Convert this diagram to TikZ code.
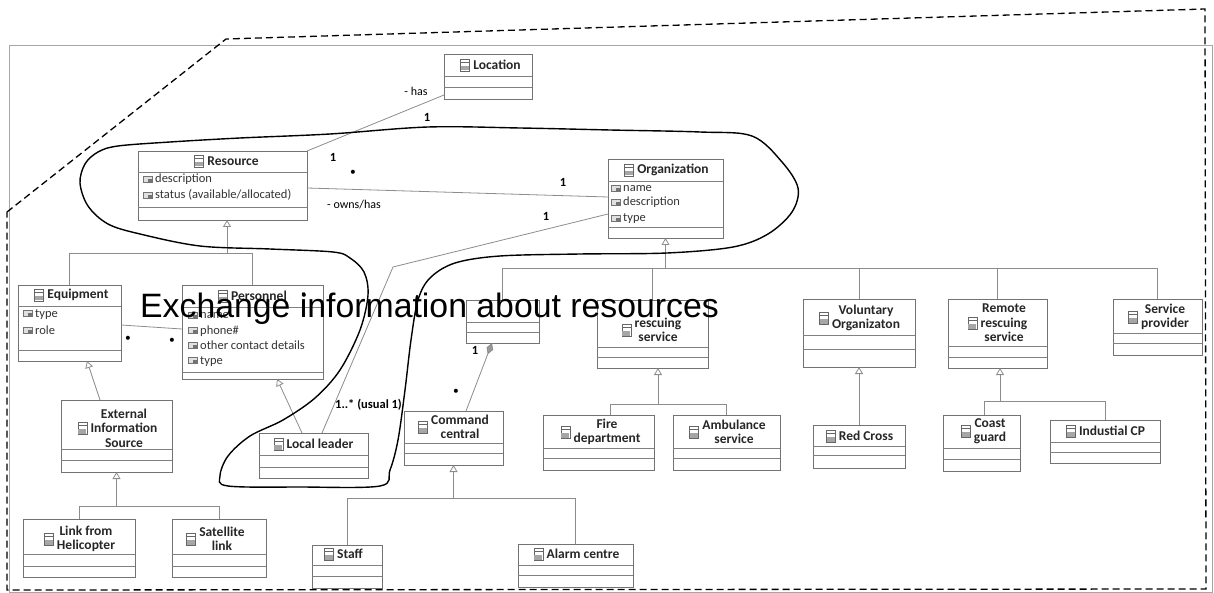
\documentclass[tikz,border=0pt]{standalone}
\usepackage{fontspec}
\setmainfont{Carlito}
\newfontfamily\bannerfont{Liberation Sans}
\usetikzlibrary{arrows.meta}

\tikzset{
  clsbox/.style={draw=black!55, line width=0.9pt, inner sep=0pt, outer sep=0pt},
  sepline/.style={draw=black!50, line width=0.8pt},
  conn/.style={draw=black!45, line width=0.8pt},
  gen/.style={conn, -{Triangle[open, length=7pt, width=8pt, line width=0.8pt]}},
  comp/.style={conn, {Diamond[fill=black!40, color=black!45, length=12pt, width=7pt]}-},
  ctitle/.style={font=\fontsize{13.5}{14.5}\selectfont\bfseries, align=center, inner sep=0pt, text=black!85},
  attrtext/.style={font=\fontsize{12.5}{14}\selectfont, inner sep=0pt, text=black!80},
  mult/.style={font=\fontsize{12.5}{14}\selectfont\bfseries, inner sep=0pt},
  dotmark/.style={font=\fontsize{11.5}{12}\selectfont, inner sep=0pt},
  rolelabel/.style={font=\fontsize{12}{14}\selectfont, inner sep=0pt},
  hull/.style={draw=black, line width=1.4pt},
  boundary/.style={draw=black, line width=1.3pt, dash pattern=on 7pt off 4pt},
}

% class box: name, x1, y1, x2, y2, header separator, attribute separator
\newcommand{\umlclass}[7]{%
  \node[clsbox, minimum width={(#4-#2)*1pt}, minimum height={(#5-#3)*1pt}] (#1) at ({(#2+#4)/2},{(#3+#5)/2}) {};
  \draw[sepline] (#2,#6) -- (#4,#6);
  \draw[sepline] (#2,#7) -- (#4,#7);
}
% small class glyph
\newcommand{\classicon}[1]{%
  \draw[black!60, line width=0.6pt, fill=white] #1 ++(-4.5,-6) rectangle ++(9,12);
  \fill[black!35] #1 ++(-4,1) rectangle ++(8,4.5);
  \draw[black!60, line width=0.5pt] #1 ++(-4.5,-2.5) -- ++(9,0);
}
% class title with its glyph on the left
\newcommand{\umltitle}[4]{%
  \node[ctitle] (#1) at (#2,#3) {#4};
  \classicon{([xshift=-8pt]#1.west)}
}
% attribute glyph
\newcommand{\attricon}[1]{%
  \draw[black!55, line width=0.5pt, fill=black!12] #1 ++(-5,-3) rectangle ++(9,6);
  \fill[black!55] #1 rectangle ++(4,4);
}
% attribute line: name, x, baseline y, text
\newcommand{\umlattr}[4]{%
  \node[attrtext, anchor=base west] (#1) at (#2,#3) {#4};
  \attricon{([xshift=-7pt,yshift=4pt]#1.base west)}
}

\begin{document}
\begin{tikzpicture}[x=1pt, y=-1pt]
\useasboundingbox (0,0) rectangle (1214,593);

% diagram frame and the dashed boundary
\draw[black!35, line width=0.6pt] (9,45) rectangle (1212,592);
\draw[boundary] (7,212) -- (226,39) -- (1205,9) -- (1206,589) -- (7,590) -- cycle;

% classes
\umlclass{loc}{444}{54}{532}{99}{76}{87}
\umlclass{res}{138}{151}{307}{220}{172}{207}
\umlclass{org}{608}{159}{723}{238}{181}{227}
\umlclass{eq}{18}{285}{121}{361}{306}{350}
\umlclass{pers}{182}{285}{323}{379}{307}{372}
\umlclass{ext}{61}{400}{172}{472}{449}{460}
\umlclass{link}{23}{519}{135}{577}{554}{566}
\umlclass{sat}{172}{519}{266}{577}{554}{566}
\umlclass{ll}{259}{433}{368}{478}{455}{467}
\umlclass{cmd}{404}{411}{503}{465}{443}{453}
\umlclass{staff}{312}{545}{382}{588}{565}{576}
\umlclass{alarm}{518}{544}{633}{587}{565}{575}
\umlclass{hid}{466}{300}{539}{343}{322}{332}
\umlclass{rs}{597}{300}{708}{368}{347}{357}
\umlclass{vol}{803}{299}{915}{367}{335}{349}
\umlclass{rem}{948}{299}{1047}{368}{346}{357}
\umlclass{sp}{1113}{299}{1202}{355}{333}{343}
\umlclass{fire}{543}{415}{654}{470}{448}{458}
\umlclass{amb}{673}{415}{780}{470}{448}{458}
\umlclass{rc}{813}{425}{905}{468}{446}{455}
\umlclass{cg}{943}{415}{1020}{471}{448}{459}
\umlclass{ind}{1050}{420}{1160}{463}{442}{452}

% class names
\umltitle{loc-t}{497}{65}{Location}
\umltitle{res-t}{233}{161}{Resource}
\umltitle{org-t}{673}{170}{Organization}
\umltitle{eq-t}{78}{295}{Equipment}
\umltitle{pers-t}{259}{296}{Personnel}
\umltitle{ext-t}{124}{428}{External\\Information\\Source}
\umltitle{link-t}{86}{539}{Link from\\Helicopter}
\umltitle{sat-t}{222}{539}{Satellite\\link}
\umltitle{ll-t}{320}{444}{Local leader}
\umltitle{cmd-t}{460}{427}{Command\\central}
\umltitle{staff-t}{350}{554}{Staff}
\umltitle{alarm-t}{583}{554}{Alarm centre}
\umltitle{rs-t}{658}{330}{rescuing\\service}
\umltitle{fire-t}{607}{432}{Fire\\department}
\umltitle{amb-t}{734}{432}{Ambulance\\service}
\umltitle{vol-t}{866}{318}{Voluntary\\Organizaton}
\umltitle{rem-t}{1004}{323}{Remote\\rescuing\\service}
\umltitle{sp-t}{1165}{317}{Service\\provider}
\umltitle{rc-t}{866}{436}{Red Cross}
\umltitle{cg-t}{990}{431}{Coast\\guard}
\umltitle{ind-t}{1112}{431}{Industial CP}

% attributes
\umlattr{res-a1}{155}{183}{description}
\umlattr{res-a2}{155}{199}{status (available/allocated)}
\umlattr{org-a1}{623}{192}{name}
\umlattr{org-a2}{623}{206}{description}
\umlattr{org-a3}{623}{222}{type}
\umlattr{eq-a1}{35}{317}{type}
\umlattr{eq-a2}{35}{334}{role}
\umlattr{pers-a1}{200}{319}{name}
\umlattr{pers-a2}{200}{334}{phone\#}
\umlattr{pers-a3}{200}{349}{other contact details}
\umlattr{pers-a4}{200}{364}{type}

% associations
\draw[conn] ([yshift=4pt]loc.south west) -- (res.north east);
\draw[conn] ([yshift=-2.5pt]res.east) -- ([yshift=1.5pt]org.west);
\coordinate (kink) at (393,267);
\draw[conn] ([yshift=-15.5pt]org.west) -- (kink) -- ([xshift=63pt]ll.north west);
\draw[conn] ([yshift=-40pt]eq.north east) -- ([yshift=-44pt]pers.north west);
\draw[comp] ([xshift=26pt]hid.south west) -- ([xshift=62pt]cmd.north west);

% generalizations
\draw[conn] (eq.north) -- ++(0,-32) -| (pers.north);
\draw[gen] ([xshift=4.5pt]res.south) ++(0,33) -- ([xshift=4.5pt]res.south);
\draw[gen] ([xshift=39pt]ext.north west) -- ([xshift=69pt]eq.south west);
\draw[conn] (link.north) -- ++(0,-13) -| (sat.north);
\draw[gen] (ext.south) ++(0,34) -- (ext.south);
\draw[gen] ([xshift=43pt]ll.north west) -- ([xshift=95pt]pers.south west);
\draw[conn] (staff.north) -- ++(0,-47) -| (alarm.north);
\draw[gen] (cmd.south) ++(0,33) -- (cmd.south);
\draw[conn] (hid.north) -- ++(0,-32) -| (sp.north);
\draw[conn] (rs.north) -- ++(0,-32);
\draw[conn] (vol.north) -- ++(0,-31);
\draw[conn] (rem.north) -- ++(0,-31);
\draw[gen] (org.south) ++(0,30) -- (org.south);
\draw[conn] ([xshift=67pt]fire.north west) -- ++(0,-11) -| (amb.north);
\draw[gen] ([xshift=5.5pt]rs.south) ++(0,36) -- ([xshift=5.5pt]rs.south);
\draw[gen] (rc.north) -- (vol.south);
\draw[conn] ([xshift=41pt]cg.north west) -- ++(0,-14) -| (ind.north);
\draw[gen] ([xshift=2.5pt]rem.south) ++(0,33) -- ([xshift=2.5pt]rem.south);

% role names and multiplicities
\node[rolelabel] (has) at (416,91) {- has};
\node[mult] (m1) at (427,117) {1};
\node[mult] (m2) at (333,157) {1};
\node[dotmark] (m3) at (353,173) {\textbullet};
\node[rolelabel] (owns) at (354,205) {- owns/has};
\node[mult] (m4) at (563,182) {1};
\node[mult] (m5) at (546,216) {1};
\node[mult, anchor=west] (m6) at (335,405) {1..* (usual 1)};
\node[dotmark] (m7) at (128,339) {\textbullet};
\node[dotmark] (m8) at (172,341) {\textbullet};
\node[dotmark] (m9) at (304,296) {\textbullet};
\node[mult] (m10) at (475,350) {1};
\node[dotmark] (m11) at (456,392) {\textbullet};

% hand-drawn grouping outline
\draw[hull] plot[smooth cycle, tension=0.55] coordinates {
  (80,183) (85,164) (98,152) (118,146) (170,142) (240,138) (330,134) (428,127)
  (520,128) (610,130) (700,132) (752,136) (782,162) (798,188) (792,212) (768,234)
  (733,247) (667,253) (580,254) (500,256) (455,263) (430,278) (418,300) (411,340)
  (405,390) (398,440) (390,470) (380,486) (300,487) (228,486) (220,476) (228,456)
  (250,436) (283,420) (315,398) (340,370) (360,330) (368,295) (364,272) (350,258)
  (333,252) (270,249) (200,246) (140,234) (108,224) (88,206)};

% caption written across the diagram
\node[anchor=base west, inner sep=0pt, font=\bannerfont\fontsize{33.8}{36}\selectfont] (banner) at (140,317) {Exchange information about resources};
\end{tikzpicture}
\end{document}
